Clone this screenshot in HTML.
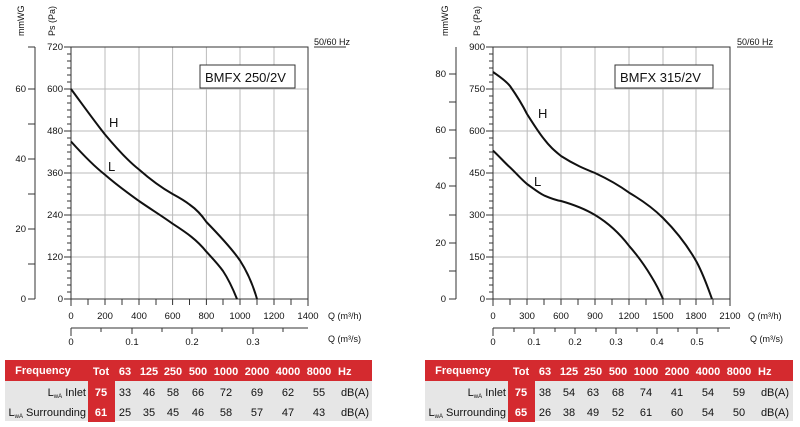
<!DOCTYPE html>
<html><head><meta charset="utf-8"><style>
body{margin:0;background:#fff;}
svg{display:block;font-family:"Liberation Sans",Arial,sans-serif;}
</style></head><body>
<svg width="800" height="427" viewBox="0 0 800 427" xmlns="http://www.w3.org/2000/svg">
<!-- LEFT CHART -->
<g fill="none" stroke="#bbb" stroke-width="1">
<path d="M105,47V299M139,47V299M172.6,47V299M206.4,47V299M240,47V299M274,47V299M71,89H308M71,131H308M71,173H308M71,215H308M71,257H308"/>
</g>
<g stroke="#333" fill="none" stroke-width="1">
<path d="M71,47V299H308V47H71"/>
<path d="M35,47V299M28,47H35M28,89H35M28,124H35M28,159H35M28,194H35M28,229H35M28,264H35M28,299H35"/>
<path d="M64,47H71M64,89H71M64,131H71M64,173H71M64,215H71M64,257H71M64,299H71"/>
<path d="M67,54H71M67,61H71M67,68H71M67,75H71M67,82H71M67,96H71M67,103H71M67,110H71M67,117H71M67,124H71M67,138H71M67,145H71M67,152H71M67,159H71M67,166H71M67,180H71M67,187H71M67,194H71M67,201H71M67,208H71M67,222H71M67,229H71M67,236H71M67,243H71M67,250H71M67,264H71M67,271H71M67,278H71M67,285H71M67,292H71"/>
<path d="M71,299v7M88,299v6M105,299v6M122,299v6M139,299v6M156,299v6M172.6,299v6M189.5,299v6M206.4,299v6M223,299v6M240,299v6M257,299v6M274,299v6M291,299v6M308,299v7"/>
<path d="M71,328H308M71,328v8M101,328v4M132,328v6M162,328v4M192,328v6M222,328v4M253,328v6M283,328v4"/>
<path d="M314,47H346"/>
</g>
<g stroke="#111" stroke-width="2" fill="none">
<path d="M71,89 C85,108 95,122 105,134.5 C118,150 128,161 139,169.5 C152,181 162,188 172.6,194 C180,198 185,201 189.5,204.5 C196,209 201,214 206.4,222 C222,238 232,249 240,260.5 C248,273 253,285 257,299"/>
<path d="M71,141.5 C85,157 95,167 105,174.7 C118,186 128,193 139,201 C152,210 162,216 172.6,223.7 C187,233 197,240 206.4,251.7 C214,260 218,264 223,271 C229,280 233,289 237,299"/>
</g>
<rect x="200" y="65" width="95" height="23" fill="#fff" stroke="#333"/>
<g font-size="13" fill="#111"><text x="205" y="82">BMFX 250/2V</text><text x="109" y="127">H</text><text x="108" y="171">L</text></g>
<g font-size="9.5" fill="#111" text-anchor="end">
<text x="63" y="50">720</text><text x="63" y="92">600</text><text x="63" y="134">480</text><text x="63" y="176">360</text><text x="63" y="218">240</text><text x="63" y="260">120</text><text x="63" y="302">0</text>
<text x="26" y="92">60</text><text x="26" y="162">40</text><text x="26" y="232">20</text><text x="26" y="302">0</text>
</g>
<g font-size="9.5" fill="#111" text-anchor="middle">
<text x="71" y="319">0</text><text x="105" y="319">200</text><text x="139" y="319">400</text><text x="172.6" y="319">600</text><text x="206.4" y="319">800</text><text x="240" y="319">1000</text><text x="274" y="319">1200</text><text x="308" y="319">1400</text>
<text x="71" y="345">0</text><text x="132" y="345">0.1</text><text x="192" y="345">0.2</text><text x="253" y="345">0.3</text>
</g>
<g font-size="9" fill="#111"><text x="328" y="319">Q (m³/h)</text><text x="328" y="342">Q (m³/s)</text><text x="314" y="45">50/60 Hz</text></g>
<g font-size="9" fill="#111"><text transform="translate(24,36) rotate(-90)">mmWG</text><text transform="translate(55,36) rotate(-90)">Ps (Pa)</text></g>

<!-- RIGHT CHART -->
<g fill="none" stroke="#bbb" stroke-width="1">
<path d="M527.2,47V299M561,47V299M595,47V299M629,47V299M663,47V299M696,47V299M493,89H730M493,131H730M493,173H730M493,215H730M493,257H730"/>
</g>
<g stroke="#333" fill="none" stroke-width="1">
<path d="M493,47V299H730V47H493"/>
<path d="M456,47V299M449,74H456M449,102H456M449,130H456M449,158H456M449,186H456M449,215H456M449,243H456M449,271H456M449,299H456"/>
<path d="M486,47H493M486,89H493M486,131H493M486,173H493M486,215H493M486,257H493M486,299H493"/>
<path d="M489,54H493M489,61H493M489,68H493M489,75H493M489,82H493M489,96H493M489,103H493M489,110H493M489,117H493M489,124H493M489,138H493M489,145H493M489,152H493M489,159H493M489,166H493M489,180H493M489,187H493M489,194H493M489,201H493M489,208H493M489,222H493M489,229H493M489,236H493M489,243H493M489,250H493M489,264H493M489,271H493M489,278H493M489,285H493M489,292H493"/>
<path d="M493,299v7M510,299v6M527,299v6M544,299v6M561,299v6M578,299v6M595,299v6M612,299v6M629,299v6M646,299v6M663,299v6M680,299v6M696,299v6M713,299v6M730,299v7"/>
<path d="M493,328H730M493,328v8M514,328v4M534,328v6M555,328v4M575,328v6M596,328v4M616,328v6M637,328v4M657,328v6M678,328v4M697,328v6M718,328v4"/>
<path d="M737,47H773"/>
</g>
<g stroke="#111" stroke-width="2" fill="none">
<path d="M493,72 C500,77 505,80 510,86 C517,96 522,104 527,114 C534,125 539,133 544,139 C550,147 555,151 561,156 C575,165 585,169 595,173 C610,180 620,186 629,192.6 C645,202 655,210 663,218 C680,235 690,250 697,262.6 C704,276 708,288 712,299"/>
<path d="M493,150.6 C499,156 504,162 510,167.4 C516,173 521,179 527,184 C534,189 539,193 544,195.4 C550,198 555,200 561,201 C575,205 585,209 595,215 C610,224 620,234 629,245.8 C638,256 645,266 651.4,276.6 C656,284 660,292 663,299"/>
</g>
<rect x="615" y="65" width="98" height="23" fill="#fff" stroke="#333"/>
<g font-size="13" fill="#111"><text x="620" y="82">BMFX 315/2V</text><text x="538" y="118">H</text><text x="534" y="186">L</text></g>
<g font-size="9.5" fill="#111" text-anchor="end">
<text x="485" y="50">900</text><text x="485" y="92">750</text><text x="485" y="134">600</text><text x="485" y="176">450</text><text x="485" y="218">300</text><text x="485" y="260">150</text><text x="485" y="302">0</text>
<text x="446" y="77">80</text><text x="446" y="133">60</text><text x="446" y="189">40</text><text x="446" y="246">20</text><text x="446" y="302">0</text>
</g>
<g font-size="9.5" fill="#111" text-anchor="middle">
<text x="493" y="319">0</text><text x="527" y="319">300</text><text x="561" y="319">600</text><text x="595" y="319">900</text><text x="629" y="319">1200</text><text x="663" y="319">1500</text><text x="696" y="319">1800</text><text x="730" y="319">2100</text>
<text x="493" y="345">0</text><text x="534" y="345">0.1</text><text x="575" y="345">0.2</text><text x="616" y="345">0.3</text><text x="657" y="345">0.4</text><text x="697" y="345">0.5</text>
</g>
<g font-size="9" fill="#111"><text x="748" y="319">Q (m³/h)</text><text x="750" y="342">Q (m³/s)</text><text x="737" y="45">50/60 Hz</text></g>
<g font-size="9" fill="#111"><text transform="translate(448,36) rotate(-90)">mmWG</text><text transform="translate(480,36) rotate(-90)">Ps (Pa)</text></g>

<!-- TABLES -->
<g id="t1">
<rect x="5" y="360" width="367" height="21" fill="#d42a2f"/>
<rect x="5" y="381" width="367" height="40" fill="#e6e6e6"/>
<rect x="88" y="360" width="27" height="62" fill="#d42a2f"/>
<g font-size="11" font-weight="bold" fill="#fff">
<text x="43" y="374" text-anchor="middle">Frequency</text>
<text x="101" y="375" text-anchor="middle">Tot</text>
<text x="125" y="375" text-anchor="middle">63</text><text x="149" y="375" text-anchor="middle">125</text><text x="173" y="375" text-anchor="middle">250</text><text x="198" y="375" text-anchor="middle">500</text><text x="226" y="375" text-anchor="middle">1000</text><text x="257" y="375" text-anchor="middle">2000</text><text x="288" y="375" text-anchor="middle">4000</text><text x="319" y="375" text-anchor="middle">8000</text><text x="338" y="375">Hz</text>
<text x="101" y="396" text-anchor="middle">75</text><text x="101" y="416" text-anchor="middle">61</text>
</g>
<g font-size="11" fill="#111" text-anchor="middle">
<text x="86" y="396" text-anchor="end">L<tspan font-size="6" dy="2">wA</tspan><tspan dy="-2"> Inlet</tspan></text>
<text x="86" y="416" text-anchor="end">L<tspan font-size="6" dy="2">wA</tspan><tspan dy="-2"> Surrounding</tspan></text>
<text x="125" y="396">33</text><text x="149" y="396">46</text><text x="173" y="396">58</text><text x="198" y="396">66</text><text x="226" y="396">72</text><text x="257" y="396">69</text><text x="288" y="396">62</text><text x="319" y="396">55</text><text x="355" y="396">dB(A)</text>
<text x="125" y="416">25</text><text x="149" y="416">35</text><text x="173" y="416">45</text><text x="198" y="416">46</text><text x="226" y="416">58</text><text x="257" y="416">57</text><text x="288" y="416">47</text><text x="319" y="416">43</text><text x="355" y="416">dB(A)</text>
</g>
</g>
<g transform="translate(420,0)">
<rect x="5" y="360" width="368" height="21" fill="#d42a2f"/>
<rect x="5" y="381" width="368" height="40" fill="#e6e6e6"/>
<rect x="88" y="360" width="27" height="62" fill="#d42a2f"/>
<g font-size="11" font-weight="bold" fill="#fff">
<text x="43" y="374" text-anchor="middle">Frequency</text>
<text x="101" y="375" text-anchor="middle">Tot</text>
<text x="125" y="375" text-anchor="middle">63</text><text x="149" y="375" text-anchor="middle">125</text><text x="173" y="375" text-anchor="middle">250</text><text x="198" y="375" text-anchor="middle">500</text><text x="226" y="375" text-anchor="middle">1000</text><text x="257" y="375" text-anchor="middle">2000</text><text x="288" y="375" text-anchor="middle">4000</text><text x="319" y="375" text-anchor="middle">8000</text><text x="338" y="375">Hz</text>
<text x="101" y="396" text-anchor="middle">75</text><text x="101" y="416" text-anchor="middle">65</text>
</g>
<g font-size="11" fill="#111" text-anchor="middle">
<text x="86" y="396" text-anchor="end">L<tspan font-size="6" dy="2">wA</tspan><tspan dy="-2"> Inlet</tspan></text>
<text x="86" y="416" text-anchor="end">L<tspan font-size="6" dy="2">wA</tspan><tspan dy="-2"> Surrounding</tspan></text>
<text x="125" y="396">38</text><text x="149" y="396">54</text><text x="173" y="396">63</text><text x="198" y="396">68</text><text x="226" y="396">74</text><text x="257" y="396">41</text><text x="288" y="396">54</text><text x="319" y="396">59</text><text x="355" y="396">dB(A)</text>
<text x="125" y="416">26</text><text x="149" y="416">38</text><text x="173" y="416">49</text><text x="198" y="416">52</text><text x="226" y="416">61</text><text x="257" y="416">60</text><text x="288" y="416">54</text><text x="319" y="416">50</text><text x="355" y="416">dB(A)</text>
</g>
</g>
</svg>
</body></html>
